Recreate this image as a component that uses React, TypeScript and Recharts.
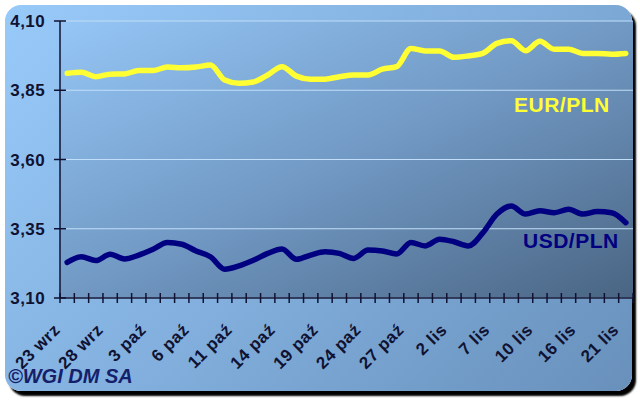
import React from 'react';
import { LineChart, Line, XAxis, YAxis, CartesianGrid } from 'recharts';

// session dates (one per quote)
const categories = [
  '23 wrz', '24 wrz', '25 wrz', '28 wrz', '29 wrz', '30 wrz', '3 paź', '4 paź', '5 paź', '6 paź',
  '7 paź', '10 paź', '11 paź', '12 paź', '13 paź', '14 paź', '17 paź', '18 paź', '19 paź', '20 paź',
  '21 paź', '24 paź', '25 paź', '26 paź', '27 paź', '28 paź', '31 paź', '2 lis', '3 lis', '4 lis',
  '7 lis', '8 lis', '9 lis', '10 lis', '14 lis', '15 lis', '16 lis', '17 lis', '20 lis', '21 lis',
];

const eurPln = [
  3.911, 3.915, 3.899, 3.908, 3.909, 3.921, 3.921, 3.934, 3.931, 3.934,
  3.941, 3.887, 3.875, 3.880, 3.905, 3.935, 3.901, 3.890, 3.890, 3.899,
  3.905, 3.905, 3.926, 3.935, 4.001, 3.992, 3.992, 3.969, 3.974, 3.983,
  4.019, 4.029, 3.993, 4.027, 3.998, 3.998, 3.983, 3.983, 3.980, 3.983,
];

const usdPln = [
  3.229, 3.249, 3.235, 3.258, 3.241, 3.255, 3.276, 3.300, 3.294, 3.270,
  3.249, 3.204, 3.216, 3.236, 3.261, 3.277, 3.240, 3.255, 3.267, 3.261,
  3.243, 3.273, 3.270, 3.259, 3.300, 3.288, 3.312, 3.303, 3.288, 3.334,
  3.403, 3.432, 3.403, 3.415, 3.408, 3.420, 3.403, 3.412, 3.408, 3.372,
];

const tickLabels = [
  '23 wrz', '28 wrz', '3 paź', '6 paź', '11 paź', '14 paź', '19 paź',
  '24 paź', '27 paź', '2 lis', '7 lis', '10 lis', '16 lis', '21 lis',
];

const yTicks = [3.1, 3.35, 3.6, 3.85, 4.1];

const data = categories.map((d, i) => ({ idx: i, date: d, eur: eurPln[i], usd: usdPln[i] }));
const boundaryTicks = [...categories.map((_, i) => i - 0.5), categories.length - 0.5];
const labelTicks = tickLabels.map((t) => categories.indexOf(t));
const xDomain = [-0.5, categories.length - 0.5];

const FONT = 'Arial, "Liberation Sans", sans-serif';
const AXIS = '#101232';
const fmt = (v: number) => v.toFixed(2).replace('.', ',');

const YTick = (props: any) => {
  const { x, y, payload } = props;
  const ax = x + 15;
  return (
    <g>
      <line x1={ax - 6} x2={ax + 6} y1={y} y2={y} stroke={AXIS} strokeWidth={1.5} />
      <text x={x} y={y} dy={6} textAnchor="end" fontFamily={FONT} fontWeight="bold"
        fontSize={17} letterSpacing={0.4} fill={AXIS}>
        {fmt(payload.value)}
      </text>
    </g>
  );
};

const BoundaryTick = (props: any) => {
  const { x, y } = props;
  return <line x1={x} x2={x} y1={y - 10} y2={y} stroke={AXIS} strokeWidth={1.5} />;
};

const DateTick = (props: any) => {
  const { x, y, payload } = props;
  return (
    <g transform={`translate(${x - 6},${y + 1}) rotate(-45)`}>
      <text textAnchor="end" fontFamily={FONT} fontWeight="bold" fontSize={17} letterSpacing={0.5}
        fill={AXIS}>
        {categories[payload.value]}
      </text>
    </g>
  );
};

export default function App() {
  return (
    <div style={{ position: 'relative', width: 640, height: 401, background: '#fff' }}>
      <style>{'body{margin:0}'}</style>
      <div
        style={{
          position: 'absolute', left: 5, top: 5, width: 627, height: 386, borderRadius: 16,
          background: 'linear-gradient(135deg, #98caf9 0%, #82afdd 50%, #6890bb 100%)',
          boxShadow: '4px 5px 2px #000',
        }}
      />
      <div style={{ position: 'absolute', left: 0, top: 0 }}>
        <LineChart width={640} height={401} data={data}
          margin={{ top: 21, right: 7, left: 0, bottom: 11 }}>
          <defs>
            <linearGradient id="plotBg" x1="0" y1="0" x2="1" y2="1">
              <stop offset="0%" stopColor="#95c6f6" />
              <stop offset="50%" stopColor="#7199c4" />
              <stop offset="100%" stopColor="#4a6583" />
            </linearGradient>
          </defs>
          <CartesianGrid vertical={false} stroke="#c2def8" strokeWidth={1.2} fill="url(#plotBg)" />
          <XAxis dataKey="idx" type="number" domain={xDomain} ticks={boundaryTicks} interval={0}
            height={12} tickSize={5} tickMargin={0} tickLine={false} tick={<BoundaryTick />}
            axisLine={{ stroke: AXIS, strokeWidth: 1.5 }} />
          <XAxis xAxisId="lbl" dataKey="idx" type="number" domain={xDomain} ticks={labelTicks}
            interval={0} height={80} tickSize={0} tickMargin={20} tickLine={false} axisLine={false}
            tick={<DateTick />} />
          <YAxis type="number" domain={[3.1, 4.1]} ticks={yTicks} interval={0} width={60}
            tickSize={6} tickMargin={9} tickLine={false} tick={<YTick />}
            axisLine={{ stroke: AXIS, strokeWidth: 1.5 }} />
          <Line type="monotone" dataKey="eur" stroke="#ffff33" strokeWidth={5.5} dot={false}
            strokeLinecap="round" isAnimationActive={false} />
          <Line type="monotone" dataKey="usd" stroke="#000080" strokeWidth={5.5} dot={false}
            strokeLinecap="round" isAnimationActive={false} />
        </LineChart>
      </div>
      <svg width={640} height={401} style={{ position: 'absolute', left: 0, top: 0, pointerEvents: 'none' }}>
        <text x={514} y={112} fontFamily={FONT} fontWeight="bold" fontSize={21} letterSpacing={0.5}
          fill="#ffff33">EUR/PLN</text>
        <text x={523} y={248} fontFamily={FONT} fontWeight="bold" fontSize={21} letterSpacing={0.5}
          fill="#000080">USD/PLN</text>
        <text x={8} y={383} fontFamily={FONT} fontWeight="bold" fontStyle="italic" fontSize={20}
          fill="#14206a">©WGI DM SA</text>
      </svg>
    </div>
  );
}
